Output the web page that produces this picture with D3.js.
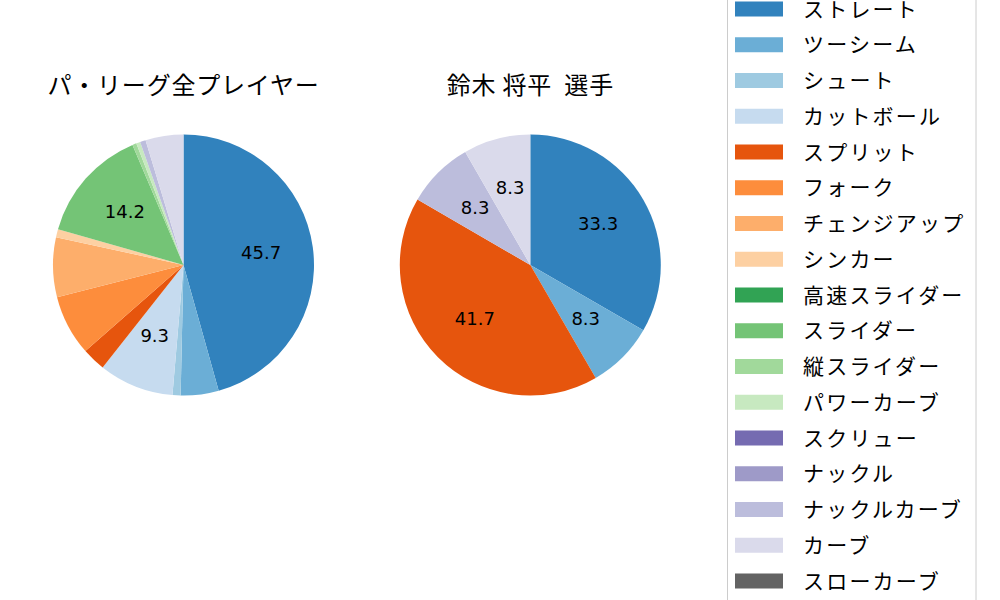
<!DOCTYPE html>
<html><head><meta charset="utf-8">
<script src="https://cdn.jsdelivr.net/npm/d3@7"></script>
<style>body{margin:0;background:#fff}svg{display:block}</style>
</head><body>
<svg id="c" width="1000" height="600"></svg>
<script>
const pitchTypes = ["ストレート","ツーシーム","シュート","カットボール","スプリット","フォーク","チェンジアップ","シンカー","高速スライダー","スライダー","縦スライダー","パワーカーブ","スクリュー","ナックル","ナックルカーブ","カーブ","スローカーブ"];
const pitchColors = ["#3182bd","#6baed6","#9ecae1","#c6dbef","#e6550d","#fd8d3c","#fdae6b","#fdd0a2","#31a354","#74c476","#a1d99b","#c7e9c0","#756bb1","#9e9ac8","#bcbddc","#dadaeb","#636363"];
const leagueValues = [45.7,4.7,1.0,9.3,2.9,7.5,7.4,1.0,0,14.2,0.5,0.5,0,0,0.7,4.7,0];
const playerValues = [33.3,8.3,0,0,41.7,0,0,0,0,0,0,0,0,0,8.3,8.3,0];
const titles = ["パ・リーグ全プレイヤー","鈴木 将平  選手"];

const svg = d3.select("#c");
const color = d3.scaleOrdinal().domain(pitchTypes).range(pitchColors);
const R = 130.5;
const centers = [[183.5,265],[530.3,265]];
const datasets = [leagueValues, playerValues];
const fontCJK = "'Noto Sans CJK JP','DejaVu Sans',sans-serif";

datasets.forEach((vals, k) => {
  const data = pitchTypes.map((p,i)=>({name:p, v:vals[i]})).filter(d=>d.v>0);
  const total = d3.sum(data, d=>d.v);
  const pie = d3.pie().value(d=>d.v).sort(null).startAngle(0).endAngle(2*Math.PI);
  const arc = d3.arc().innerRadius(0).outerRadius(R);
  const labelArc = d3.arc().innerRadius(R*0.6).outerRadius(R*0.6);
  const g = svg.append("g").attr("transform", `translate(${centers[k][0]},${centers[k][1]})`);
  const arcs = pie(data);
  g.selectAll("path").data(arcs).join("path")
    .attr("d", arc).attr("fill", d=>color(d.data.name));
  g.selectAll("text").data(arcs.filter(d=>d.data.v/total*100 >= 8)).join("text")
    .attr("transform", d=>`translate(${labelArc.centroid(d)})`)
    .attr("text-anchor","middle").attr("dy","0.25em")
    .attr("font-family","'DejaVu Sans',sans-serif").attr("font-size",18)
    .attr("fill","#000")
    .text(d=>(d.data.v/total*100).toFixed(1));
  svg.append("text").attr("x", centers[k][0]).attr("y", 94)
    .attr("text-anchor","middle").attr("font-family",fontCJK).attr("font-size",24)
    .attr("letter-spacing","0.8px").style("white-space","pre")
    .attr("fill","#000").text(titles[k]);
});

// legend
const lg = svg.append("g");
lg.append("rect").attr("x",727.5).attr("y",-12).attr("width",248.5).attr("height",630)
  .attr("fill","#fff").attr("stroke","#cccccc").attr("stroke-width",1).attr("rx",3);
const step = 35.75;
pitchTypes.forEach((p,i)=>{
  const cy = 9 + i*step;
  lg.append("rect").attr("x",735).attr("y",cy-7.5).attr("width",48).attr("height",15).attr("fill",color(p));
  lg.append("text").attr("x",803).attr("y",cy).attr("dy","0.36em")
    .attr("font-family",fontCJK).attr("font-size",21).attr("letter-spacing","2.2px").attr("fill","#000").text(p);
});
</script>
</body></html>
